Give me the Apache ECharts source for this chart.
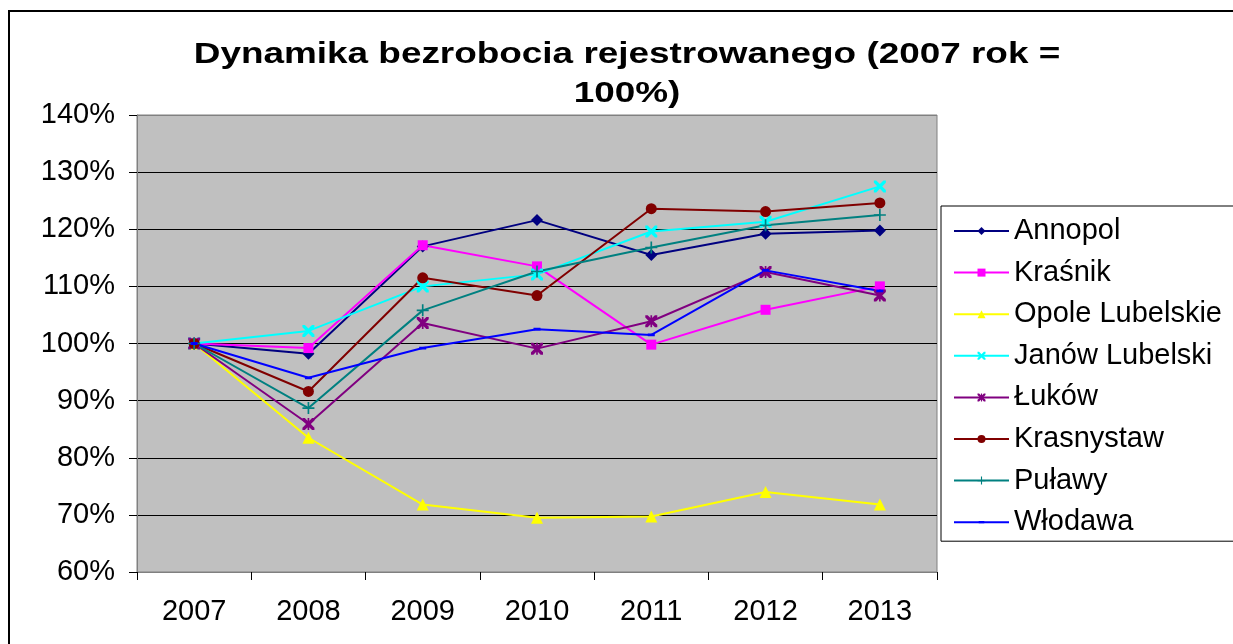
<!DOCTYPE html>
<html>
<head>
<meta charset="utf-8">
<script src="https://cdn.jsdelivr.net/npm/echarts@6/dist/echarts.min.js"></script>
<style>
  html, body { margin: 0; padding: 0; background: #fff; }
  #chart { width: 1233px; height: 644px; }
</style>
</head>
<body>
<div id="chart"></div>
<script>
// lata
var years = ['2007', '2008', '2009', '2010', '2011', '2012', '2013'];

// wartosci w % (2007 = 100)
var annopol    = [100, 98.2, 117.0, 121.6, 115.5, 119.2, 119.8];
var krasnik    = [100, 99.2, 117.2, 113.5, 99.8, 105.9, 110.0];
var opole      = [100, 83.5, 71.8, 69.5, 69.7, 74.0, 71.8];
var janow      = [100, 102.2, 110.0, 112.1, 119.6, 121.3, 127.5];
var lukow      = [100, 85.9, 103.6, 99.1, 103.9, 112.5, 108.4];
var krasnystaw = [100, 91.6, 111.5, 108.4, 123.6, 123.1, 124.6];
var pulawy     = [100, 88.7, 105.8, 112.6, 116.8, 120.7, 122.5];
var wlodawa    = [100, 94.0, 99.2, 102.5, 101.5, 112.8, 109.2];

var yTicks = [60, 70, 80, 90, 100, 110, 120, 130, 140];

var FONT = '"Liberation Sans", Arial, sans-serif';

// ksztalty markerow
var crossX = 'path://M0,0L2,0L5,3L8,0L10,0L10,2L7,5L10,8L10,10L8,10L5,7L2,10L0,10L0,8L3,5L0,2Z';
var star = 'path://M0,0L2,0L5,3L8,0L10,0L10,2L7,5L10,8L10,10L8,10L5,7L2,10L0,10L0,8L3,5L0,2Z' +
           'M4.3,0L5.7,0L5.7,10L4.3,10Z';
var plus = 'path://M4.3,0L5.7,0L5.7,4.3L10,4.3L10,5.7L5.7,5.7L5.7,10L4.3,10L4.3,5.7L0,5.7L0,4.3L4.3,4.3Z';
// krotka kreska (puste punkty w rogach trzymaja kwadratowy obrys)
var dash = 'path://M0,0L0,0ZM10,10L10,10ZM1.5,3.6L8.5,3.6L8.5,6.4L1.5,6.4Z';

function mkSeries(name, data, color, symbol, size) {
    return {
        name: name,
        type: 'line',
        data: data,
        symbol: symbol,
        symbolSize: size,
        showAllSymbol: true,
        lineStyle: { color: color, width: 2 },
        itemStyle: { color: color },
        emphasis: { disabled: true },
        animation: false
    };
}

var titleFont = 'bold 30px ' + FONT;

var myChart = echarts.init(document.getElementById('chart'));
option = {
    backgroundColor: '#fff',
    animation: false,
    graphic: [
        {
            type: 'rect',
            shape: { x: 9, y: 11, width: 1250, height: 660 },
            style: { fill: 'none', stroke: '#000', lineWidth: 2 },
            silent: true
        },
        {
            type: 'text',
            x: 627, y: 55,
            scaleX: 1.23,
            style: {
                text: 'Dynamika bezrobocia rejestrowanego (2007 rok =',
                font: titleFont,
                fill: '#000',
                textAlign: 'center',
                textVerticalAlign: 'middle'
            }
        },
        {
            type: 'text',
            x: 627, y: 94,
            scaleX: 1.23,
            style: {
                text: '100%)',
                font: titleFont,
                fill: '#000',
                textAlign: 'center',
                textVerticalAlign: 'middle'
            }
        }
    ],
    legend: {
        orient: 'vertical',
        left: 941,
        top: 206,
        padding: [10, 40, 4, 12],
        itemWidth: 55,
        itemHeight: 10,
        itemGap: 11.6,
        borderColor: '#000',
        borderWidth: 1,
        backgroundColor: '#fff',
        textStyle: { fontSize: 29, fontFamily: FONT, color: '#000', lineHeight: 30 },
        data: ['Annopol', 'Kraśnik', 'Opole Lubelskie', 'Janów Lubelski', 'Łuków', 'Krasnystaw', 'Puławy', 'Włodawa']
    },
    grid: {
        left: 137,
        right: 296,
        top: 115,
        bottom: 72,
        show: true,
        backgroundColor: '#c0c0c0',
        borderColor: '#808080',
        borderWidth: 1
    },
    xAxis: {
        type: 'category',
        data: years,
        boundaryGap: true,
        axisLine: { lineStyle: { color: '#808080', width: 1 } },
        axisTick: { show: true, length: 8, lineStyle: { color: '#000' } },
        axisLabel: { fontSize: 29, fontFamily: FONT, color: '#000', margin: 25 },
        splitLine: { show: false }
    },
    yAxis: {
        type: 'value',
        min: yTicks[0],
        max: yTicks[yTicks.length - 1],
        interval: 10,
        axisLine: { show: true, lineStyle: { color: '#808080', width: 1 } },
        axisTick: { show: true, length: 8, lineStyle: { color: '#000' } },
        axisLabel: { fontSize: 29, fontFamily: FONT, color: '#000', margin: 22, formatter: '{value}%' },
        splitLine: {
            show: true,
            lineStyle: { color: ['#808080', '#000', '#000', '#000', '#000', '#000', '#000', '#000', '#808080'], width: 1 }
        }
    },
    series: [
        mkSeries('Annopol', annopol, '#000080', 'diamond', 12),
        mkSeries('Kraśnik', krasnik, '#ff00ff', 'rect', 10),
        mkSeries('Opole Lubelskie', opole, '#ffff00', 'triangle', 12),
        mkSeries('Janów Lubelski', janow, '#00ffff', crossX, 12),
        mkSeries('Łuków', lukow, '#800080', star, 12),
        mkSeries('Krasnystaw', krasnystaw, '#800000', 'circle', 11),
        mkSeries('Puławy', pulawy, '#008080', plus, 12),
        mkSeries('Włodawa', wlodawa, '#0000ff', dash, 10)
    ]
};

myChart.setOption(option);
</script>
</body>
</html>
